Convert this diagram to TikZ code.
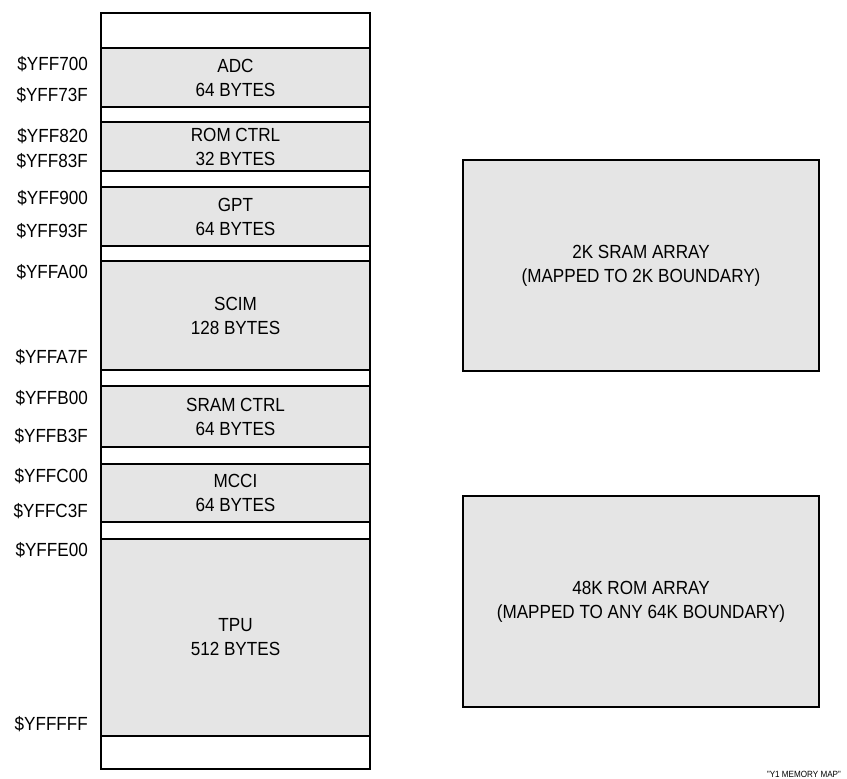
\documentclass[tikz,border=0pt]{standalone}
\usepackage{fontspec}
\setmainfont[FakeStretch=0.9]{Liberation Sans}
\usetikzlibrary{positioning}
\definecolor{blk}{HTML}{E5E5E5}
\tikzset{
  fld/.style={draw, fill=blk, line width=1.1pt, minimum width=269pt, inner sep=0pt, align=center},
  adr/.style={anchor=mid east, inner sep=0pt},
  arr/.style={draw, fill=blk, line width=1.5pt, minimum width=356pt, minimum height=211pt, align=center}}

\begin{document}
\begin{tikzpicture}[x=1pt, y=-1pt, font=\fontsize{19}{24}\selectfont]
\useasboundingbox (0,0) rectangle (847,779);
\node[fill=white, minimum width=269pt, minimum height=756pt, inner sep=0pt] (col) at (235.5,391) {};
\node[fld, minimum height=59pt] (adc) at (235.5,77.5) {ADC\\64 BYTES};
\node[fld, minimum height=49pt] (romc) at (235.5,146.5) {ROM CTRL\\32 BYTES};
\node[fld, minimum height=59pt] (gpt) at (235.5,216.5) {GPT\\64 BYTES};
\node[fld, minimum height=109pt] (scim) at (235.5,315.5) {SCIM\\128 BYTES};
\node[fld, minimum height=61pt] (sramc) at (235.5,416.5) {SRAM CTRL\\64 BYTES};
\node[fld, minimum height=58pt] (mcci) at (235.5,493) {MCCI\\64 BYTES};
\node[fld, minimum height=197pt] (tpu) at (235.5,637.5) {TPU\\512 BYTES};
\draw[line width=2pt] (col.north west) rectangle (col.south east);
% start and end addresses
\node[adr] (a700) at (88,68) {\$YFF700};
\node[adr] (a73f) at (88,99) {\$YFF73F};
\node[adr] (a820) at (88,140) {\$YFF820};
\node[adr] (a83f) at (88,165) {\$YFF83F};
\node[adr] (a900) at (88,202) {\$YFF900};
\node[adr] (a93f) at (88,235) {\$YFF93F};
\node[adr] (aa00) at (88,276) {\$YFFA00};
\node[adr] (aa7f) at (88,361) {\$YFFA7F};
\node[adr] (ab00) at (88,402) {\$YFFB00};
\node[adr] (ab3f) at (88,440) {\$YFFB3F};
\node[adr] (ac00) at (88,480) {\$YFFC00};
\node[adr] (ac3f) at (88,515) {\$YFFC3F};
\node[adr] (ae00) at (88,554) {\$YFFE00};
\node[adr] (afff) at (88,728) {\$YFFFFF};
% arrays
\node[arr] (sram) at (641,265.5) {2K SRAM ARRAY\\(MAPPED TO 2K BOUNDARY)};
\node[arr] (rom) at (641,601.5) {48K ROM ARRAY\\(MAPPED TO ANY 64K BOUNDARY)};
\node[anchor=base east, inner sep=0pt, font=\fontsize{9}{10}\selectfont] (cap) at (841,777) {"Y1 MEMORY MAP"};
\end{tikzpicture}
\end{document}
